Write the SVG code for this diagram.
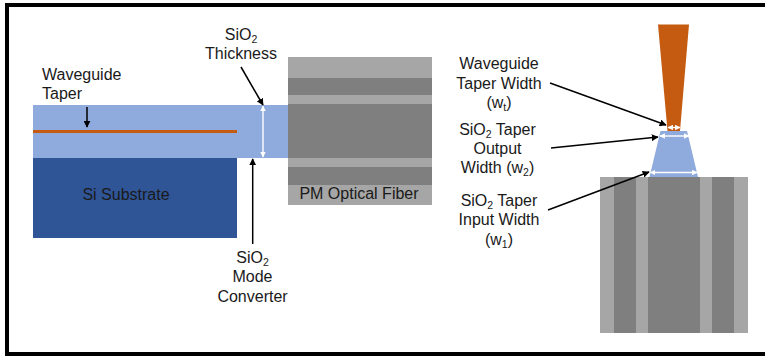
<svg xmlns="http://www.w3.org/2000/svg" width="765" height="356" viewBox="0 0 765 356">
<defs>
<marker id="ab" viewBox="0 0 10 10" refX="9" refY="5" markerWidth="7" markerHeight="7" markerUnits="userSpaceOnUse" orient="auto-start-reverse"><path d="M0 0L10 5L0 10Z" fill="#000"/></marker>
<marker id="aw" viewBox="0 0 10 10" refX="9" refY="5" markerWidth="5.500" markerHeight="5.500" markerUnits="userSpaceOnUse" orient="auto-start-reverse"><path d="M0 0L10 5L0 10Z" fill="#fff"/></marker>
</defs>
<style>
text{font-family:"Liberation Sans",Arial,sans-serif;font-size:16px;fill:#1a1a1a;text-anchor:middle}
tspan.s{font-size:10.500px}
.st{text-anchor:start}
.k{stroke:#000;stroke-width:1.500;fill:none;marker-end:url(#ab)}
.w{stroke:#fff;stroke-width:1.400;fill:none;marker-start:url(#aw);marker-end:url(#aw)}
.lt{fill:#a6a6a6}.dk{fill:#7f7f7f}.bl{fill:#8faadc}.or{fill:#c55a11}
</style>
<rect width="765" height="356" fill="#fff"/>
<rect x="7" y="5" width="800" height="349" fill="none" stroke="#000" stroke-width="4"/>
<g id="si-substrate"><rect x="33" y="158" width="204" height="80" fill="#2f5597"/><text x="126" y="200">Si Substrate</text></g>
<g id="pm-fiber"><rect x="288" y="57" width="144" height="148" class="lt"/><rect x="288" y="78" width="144" height="17" class="dk"/><rect x="288" y="104" width="144" height="54" class="dk"/><rect x="288" y="167" width="144" height="18" class="dk"/><text x="359" y="199">PM Optical Fiber</text></g>
<g id="mode-converter"><rect x="33" y="105" width="255" height="53" class="bl"/><rect x="33" y="130" width="204" height="3" class="or"/></g>
<g id="fiber-end"><rect x="600" y="177" width="148" height="156" class="lt"/><rect x="614" y="177" width="22" height="156" class="dk"/><rect x="648" y="177" width="52" height="156" class="dk"/><rect x="712" y="177" width="22" height="156" class="dk"/></g>
<g id="taper-top"><path d="M649.500 177L660.500 131H687L698 177Z" class="bl"/><path d="M658 24.500H689L680 131H667.500Z" class="or"/></g>
<g id="labels">
<text class="st" x="42" y="80">Waveguide</text><text class="st" x="42" y="99">Taper</text>
<text x="241" y="40">SiO<tspan class="s" dy="3">2</tspan></text><text x="241" y="59">Thickness</text>
<text x="252.500" y="263">SiO<tspan class="s" dy="3">2</tspan></text><text x="252.500" y="282">Mode</text><text x="252.500" y="302">Converter</text>
<text x="499" y="69">Waveguide</text><text x="499" y="89">Taper Width</text><text x="499" y="108">(w<tspan class="s" dy="3">t</tspan><tspan dy="-3">)</tspan></text>
<text x="497.500" y="135">SiO<tspan class="s" dy="3">2</tspan><tspan dy="-3"> Taper</tspan></text><text x="497.500" y="154">Output</text><text x="497.500" y="173">Width (w<tspan class="s" dy="3">2</tspan><tspan dy="-3">)</tspan></text>
<text x="499" y="206">SiO<tspan class="s" dy="3">2</tspan><tspan dy="-3"> Taper</tspan></text><text x="499" y="225">Input Width</text><text x="499" y="245">(w<tspan class="s" dy="3">1</tspan><tspan dy="-3">)</tspan></text>
</g>
<g id="connectors">
<path class="k" d="M87 107V127"/>
<path class="k" d="M241 67L263 105"/>
<path class="k" d="M252.700 244V159"/>
<path class="k" d="M550 83L666 125"/>
<path class="k" d="M551 148L658 137"/>
<path class="k" d="M548 210L649 172"/>
<path class="w" d="M263 106V157"/>
<path class="w" d="M668 127.500H680"/>
<path class="w" d="M660 136H689"/>
<path class="w" d="M650.500 172.500H697"/>
</g>
</svg>
